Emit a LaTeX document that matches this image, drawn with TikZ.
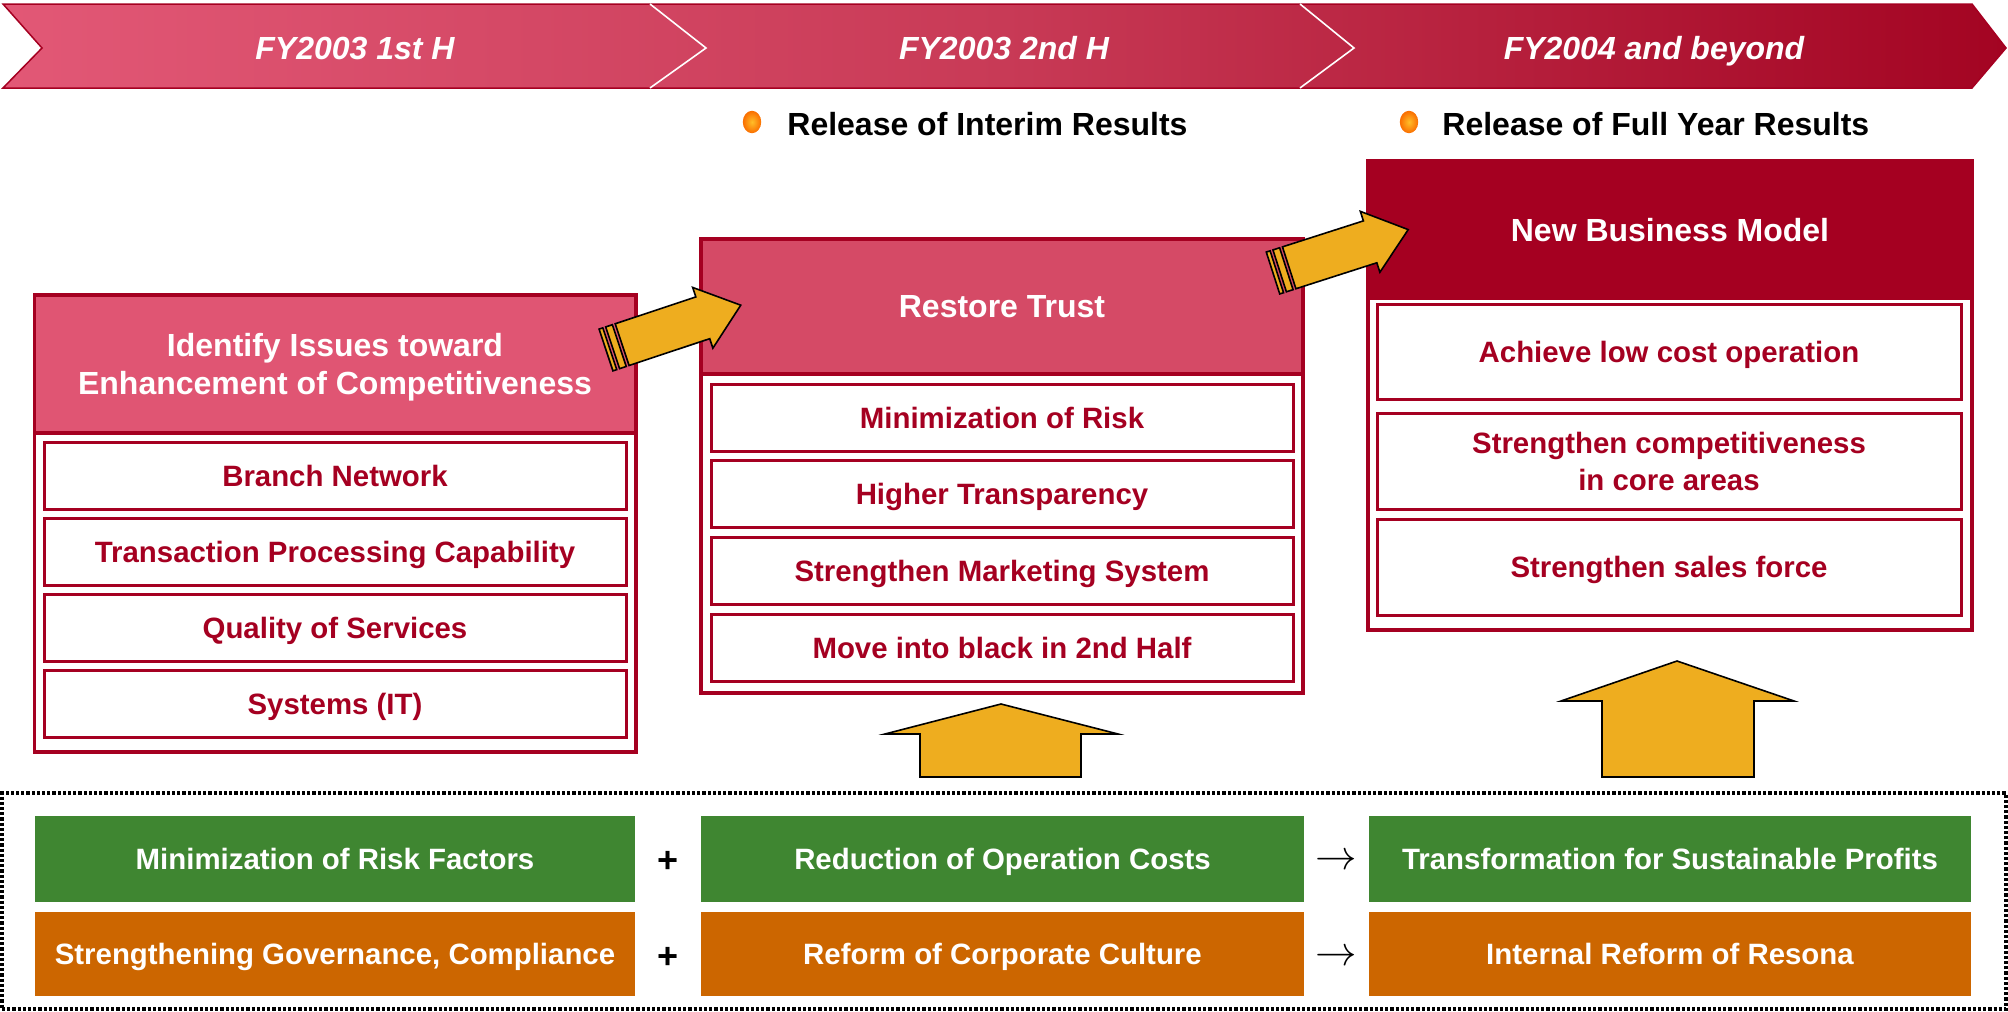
\documentclass[tikz,border=0pt]{standalone}
\usepackage{fontspec}
\setmainfont{Liberation Sans}
\definecolor{dred}{RGB}{165,0,33}
\definecolor{pinkA}{RGB}{224,85,115}
\definecolor{pinkB}{RGB}{213,74,102}
\definecolor{gold}{RGB}{238,173,31}
\definecolor{bgreen}{RGB}{63,134,49}
\definecolor{borange}{RGB}{204,102,0}
\definecolor{bannerL}{RGB}{226,88,118}
\definecolor{bannerM}{RGB}{200,58,86}
\definecolor{bannerR}{RGB}{163,4,34}
\definecolor{bulletin}{RGB}{255,190,40}
\definecolor{bulletout}{RGB}{250,110,0}
\tikzset{
  stripearrow/.pic={
    \filldraw[blockarrow] (0,-22) rectangle (4,22);
    \filldraw[blockarrow] (7,-22) rectangle (14,22);
    \filldraw[blockarrow] (17,-22) -- (102,-22) -- (102,-32) -- (142,0) -- (102,32) -- (102,22) -- (17,22) -- cycle;
  }
}
\begin{document}
\begin{tikzpicture}[x=0.5pt,y=-0.5pt,
  colbox/.style={draw=dred,line width=1.75pt,fill=white,inner sep=0pt},
  hdr/.style={draw=dred,line width=1.75pt,text=white,inner sep=0pt,align=center,text depth=0pt,font=\fontsize{16}{19}\selectfont\bfseries},
  item/.style={draw=dred,line width=1.5pt,fill=white,text=dred,inner sep=0pt,align=center,text depth=0pt,font=\fontsize{14.7}{18.5}\selectfont\bfseries},
  band/.style={text=white,inner sep=0pt,text depth=0pt,font=\fontsize{14.7}{18}\selectfont\bfseries},
  period/.style={text=white,inner sep=0pt,text depth=0pt,font=\fontsize{16}{19}\selectfont\bfseries\itshape},
  release/.style={anchor=west,inner sep=0pt,text depth=0pt,font=\fontsize{16}{19}\selectfont\bfseries},
  blockarrow/.style={fill=gold,draw=black,line width=0.8pt,line join=miter},
  sym/.style={inner sep=0pt,font=\fontsize{18}{20}\selectfont\bfseries}
]
\useasboundingbox (0,0) rectangle (2008,1012);

% banner
\shadedraw[draw=dred,line width=0.75pt,left color=bannerL,right color=bannerR,middle color=bannerM]
  (3,4) -- (1972,4) -- (2006,48) -- (1972,88) -- (3,88) -- (42,48) -- cycle;
\draw[white,line width=0.8pt] (650,4) -- (706,48) -- (650,88);
\draw[white,line width=0.8pt] (1300,4) -- (1354,48) -- (1300,88);
\node[period] (p1) at (355,48) {FY2003 1st H};
\node[period] (p2) at (1004,48) {FY2003 2nd H};
\node[period] (p3) at (1654,48) {FY2004 and beyond};

% releases
\shade[inner color=bulletin,outer color=bulletout] (752,122) ellipse [x radius=4.6pt, y radius=5.6pt];
\shade[inner color=bulletin,outer color=bulletout] (1409,122) ellipse [x radius=4.6pt, y radius=5.6pt];
\node[release] (r1) at (787,124) {Release of Interim Results};
\node[release] (r2) at (1442,124) {Release of Full Year Results};

% left column
\node[colbox,minimum width=300.75pt,minimum height=228.5pt] (Lbox) at (335,523.5) {};
\node[hdr,fill=pinkA,minimum width=300.75pt,minimum height=69pt] (Lhead) at (335,364) {Identify Issues toward\\Enhancement of Competitiveness};
\node[item,minimum width=291pt,minimum height=33.5pt] (L1) at (335,475.5) {Branch Network};
\node[item,minimum width=291pt,minimum height=33.5pt] (L2) at (335,551.5) {Transaction Processing Capability};
\node[item,minimum width=291pt,minimum height=33.5pt] (L3) at (335,627.5) {Quality of Services};
\node[item,minimum width=291pt,minimum height=33.5pt] (L4) at (335,704) {Systems (IT)};

% middle column
\node[colbox,minimum width=301pt,minimum height=227pt] (Mbox) at (1002,466) {};
\node[hdr,fill=pinkB,minimum width=301pt,minimum height=67.5pt] (Mhead) at (1002,306.5) {Restore Trust};
\node[item,minimum width=291pt,minimum height=33.5pt] (M1) at (1002,417.5) {Minimization of Risk};
\node[item,minimum width=291pt,minimum height=33.5pt] (M2) at (1002,493.5) {Higher Transparency};
\node[item,minimum width=291pt,minimum height=33.5pt] (M3) at (1002,570.5) {Strengthen Marketing System};
\node[item,minimum width=291pt,minimum height=33.5pt] (M4) at (1002,647.5) {Move into black in 2nd Half};

% right column
\node[colbox,minimum width=302pt,minimum height=234.5pt] (Rbox) at (1670,395.5) {};
\node[hdr,fill=dred,minimum width=302pt,minimum height=68.5pt] (Rhead) at (1670,229.5) {New Business Model};
\node[item,minimum width=292pt,minimum height=47.5pt] (R1) at (1669,351.5) {Achieve low cost operation};
\node[item,minimum width=292pt,minimum height=48pt] (R2) at (1669,461) {Strengthen competitiveness\\in core areas};
\node[item,minimum width=292pt,minimum height=48pt] (R3) at (1669,567) {Strengthen sales force};

% diagonal striped arrows
\pic[rotate=18.4] at (606,350) {stripearrow};
\pic[rotate=17.8] at (1273,273) {stripearrow};

% up arrows
\filldraw[blockarrow] (920,777) -- (920,734) -- (885,734) -- (1001,704) -- (1118,734) -- (1081,734) -- (1081,777) -- cycle;
\filldraw[blockarrow] (1602,777) -- (1602,701) -- (1561,701) -- (1677,661) -- (1794,701) -- (1754,701) -- (1754,777) -- cycle;

% bottom frame
\node[draw=black,line width=1.8pt,dash pattern=on 1.6pt off 1pt,minimum width=1002pt,minimum height=108pt,inner sep=0pt] (frame) at (1004,901) {};
\node[band,fill=bgreen,minimum width=300pt,minimum height=43pt] (g1) at (335,859) {Minimization of Risk Factors};
\node[band,fill=bgreen,minimum width=301.5pt,minimum height=43pt] (g2) at (1002.5,859) {Reduction of Operation Costs};
\node[band,fill=bgreen,minimum width=301pt,minimum height=43pt] (g3) at (1670,859) {Transformation for Sustainable Profits};
\node[band,fill=borange,minimum width=300pt,minimum height=42pt] (o1) at (335,954) {Strengthening Governance, Compliance};
\node[band,fill=borange,minimum width=301.5pt,minimum height=42pt] (o2) at (1002.5,954) {Reform of Corporate Culture};
\node[band,fill=borange,minimum width=301pt,minimum height=42pt] (o3) at (1670,954) {Internal Reform of Resona};
\node[sym] (plus1) at (668,862) {+};
\node[sym] (plus2) at (668,958) {+};
\node[inner sep=0pt,font=\fontsize{20}{22}\selectfont] (to1) at (1336,862) {$\rightarrow$};
\node[inner sep=0pt,font=\fontsize{20}{22}\selectfont] (to2) at (1336,958) {$\rightarrow$};
\end{tikzpicture}
\end{document}
